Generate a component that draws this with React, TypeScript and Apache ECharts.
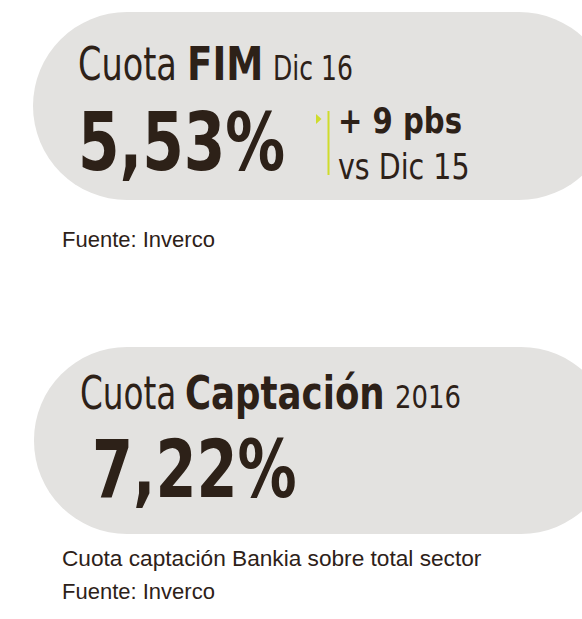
import React, { useEffect, useRef } from "react";
import * as echarts from "echarts";

const cardPrefix = ["Cuota", "Cuota"];
const cardTitles = ["FIM", "Captación"];
const cardPeriods = ["Dic 16", "2016"];
const cardValues = ["5,53%", "7,22%"];
const changeLines = ["+ 9 pbs", "vs Dic 15"];
const notesFirst = ["Fuente: Inverco"];
const notesSecond = ["Cuota captación Bankia sobre total sector", "Fuente: Inverco"];

const INK = "#2d2118";
const PILL = "#e3e2e0";
const GREEN = "#cfdc2b";
const NARROW = "'DejaVu Sans Condensed', 'DejaVu Sans', sans-serif";
const REG = "'Liberation Sans', Arial, sans-serif";

function txt(text: string, x: number, y: number, size: number, weight: string, family: string, sx = 1) {
  return {
    type: "text",
    x,
    y,
    scaleX: sx,
    style: {
      text,
      font: `${weight} ${size}px ${family}`,
      fill: INK,
      textAlign: "left",
      textVerticalAlign: "middle",
    },
  };
}

export default function App() {
  const ref = useRef<HTMLDivElement>(null);
  useEffect(() => {
    if (!ref.current) return;
    const chart = echarts.init(ref.current, null, { renderer: "svg" });
    const g: any[] = [];
    // pills
    g.push({ type: "rect", shape: { x: 33, y: 12, width: 580, height: 188, r: 94 }, style: { fill: PILL } });
    g.push({ type: "rect", shape: { x: 34, y: 347, width: 580, height: 187, r: 93 }, style: { fill: PILL } });
    // card 1
    g.push(txt(cardPrefix[0], 78, 64, 46, "normal", NARROW, 0.81));
    g.push(txt(cardTitles[0], 187, 64, 46, "bold", NARROW, 0.9));
    g.push(txt(cardPeriods[0], 273, 68, 34, "normal", NARROW, 0.82));
    g.push(txt(cardValues[0], 78, 142, 80, "bold", NARROW, 0.83));
    g.push({ type: "polygon", shape: { points: [[316, 114], [316, 124], [321.5, 119]] }, style: { fill: GREEN } });
    g.push({ type: "line", shape: { x1: 328.5, y1: 111, x2: 328.5, y2: 175 }, style: { stroke: GREEN, lineWidth: 2 } });
    g.push(txt(changeLines[0], 338, 120, 36, "bold", NARROW, 0.9));
    g.push(txt(changeLines[1], 338, 167, 36, "normal", NARROW, 0.88));
    g.push(txt(notesFirst[0], 62, 239, 22, "normal", REG));
    // card 2
    g.push(txt(cardPrefix[1], 80, 393, 46, "normal", NARROW, 0.79));
    g.push(txt(cardTitles[1], 185, 393, 46, "bold", NARROW, 0.86));
    g.push(txt(cardPeriods[1], 395, 397, 32, "normal", NARROW, 0.9));
    g.push(txt(cardValues[1], 92, 469, 80, "bold", NARROW, 0.82));
    g.push(txt(notesSecond[0], 62, 559, 22, "normal", REG, 1.03));
    g.push(txt(notesSecond[1], 62, 591, 22, "normal", REG));

    chart.setOption({ animation: false, graphic: { elements: g } });
    return () => chart.dispose();
  }, []);
  return <div ref={ref} style={{ position: "fixed", left: 0, top: 0, width: 582, height: 619, background: "#fff" }} />;
}
